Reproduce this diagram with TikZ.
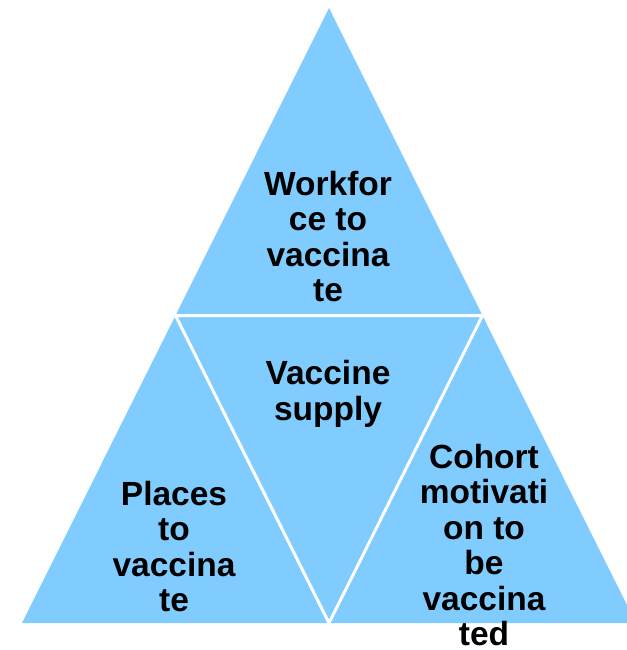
\documentclass[tikz,border=0pt]{standalone}
\usepackage{fontspec}
\setmainfont{Liberation Sans}
\definecolor{tri}{RGB}{128,204,255}
\begin{document}
\begin{tikzpicture}[x=1pt,y=-1pt,
  lbl/.style={font=\bfseries\fontsize{33.5pt}{35.5pt}\selectfont, align=center, inner sep=0pt, anchor=base, text=black},
  gap/.style={draw=white, line width=3pt}]
\useasboundingbox (0,0) rectangle (626,650);
\coordinate (A) at (329,8);
\coordinate (BL) at (22,623);
\coordinate (BR) at (636,623);
\coordinate (ML) at (175.5,315.5);
\coordinate (MR) at (482.5,315.5);
\coordinate (MB) at (329,623);
\fill[tri] (A) -- (BL) -- (BR) -- cycle;
\begin{scope}
  \clip (A) -- (BL) -- (BR) -- cycle;
  \draw[gap] (ML) -- (MR) -- (MB) -- cycle;
\end{scope}
\node[lbl] (work) at (328,301.5) {Workfor\\ce to\\vaccina\\te};
\node[lbl] (supply) at (328,420) {Vaccine\\supply};
\node[lbl] (places) at (174,611.5) {Places\\to\\vaccina\\te};
\node[lbl] (cohort) at (484,645.5) {Cohort\\motivati\\on to\\be\\vaccina\\ted};
\end{tikzpicture}
\end{document}
